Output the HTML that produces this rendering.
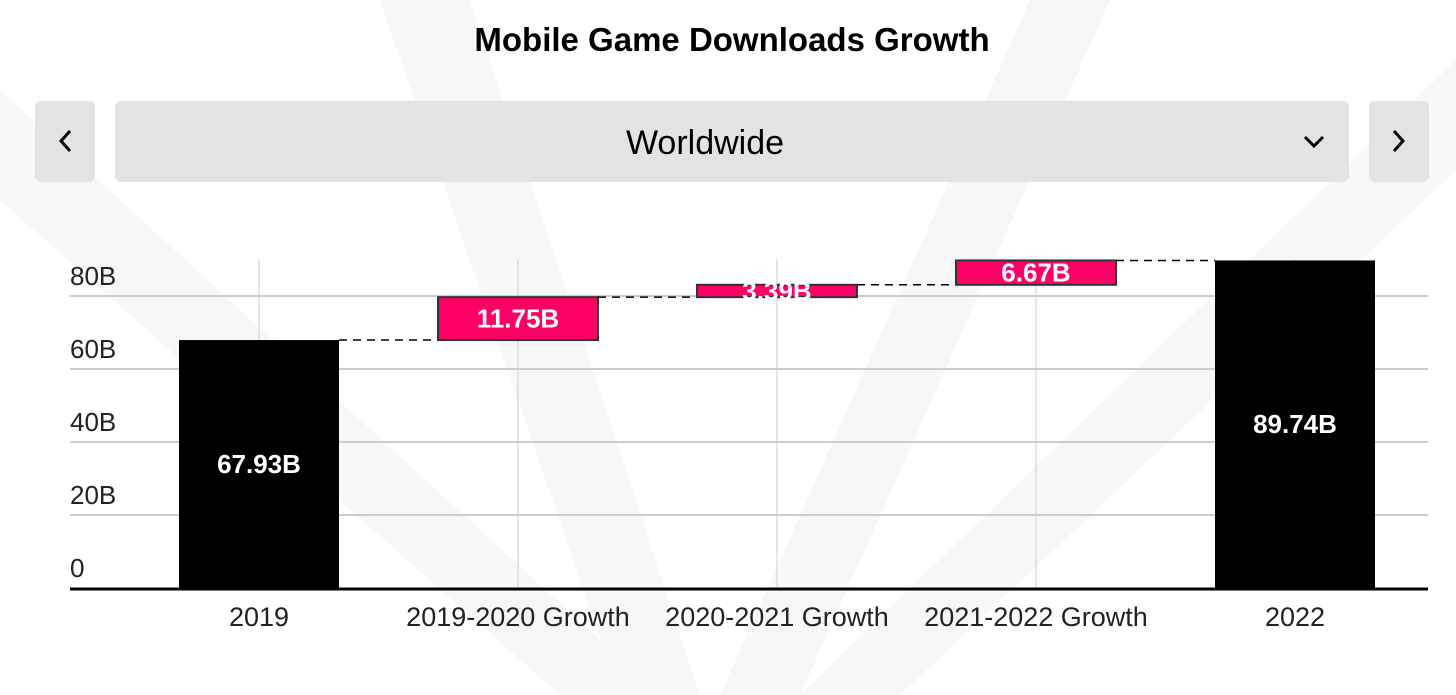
<!DOCTYPE html>
<html><head><meta charset="utf-8"><style>
body{margin:0;width:1456px;height:695px;overflow:hidden;background:#fff;font-family:"Liberation Sans",sans-serif;}
svg{position:absolute;left:0;top:0}
</style></head><body>
<svg width="1456" height="695">
<g fill="#f7f7f7">
<polygon points="0,90 0,200 560,695 660,695"/>
<polygon points="380,0 470,0 700,695 620,695"/>
<polygon points="1030,0 1110,0 800,695 720,695"/>
<polygon points="1456,60 1456,170 900,695 800,695"/>
</g>
<text x="732" y="51" text-anchor="middle" font-size="33" font-weight="bold" fill="#000">Mobile Game Downloads Growth</text>
<g><rect x="35" y="101" width="60" height="81" rx="6" fill="#e3e3e3"/><polyline points="70,131 61,141 70,151" fill="none" stroke="#000" stroke-width="3"/></g>
<g><rect x="115" y="101" width="1234" height="81" rx="6" fill="#e3e3e3"/>
<text x="705" y="154" text-anchor="middle" font-size="34" fill="#000">Worldwide</text>
<polyline points="1305,137 1314,146 1323,137" fill="none" stroke="#000" stroke-width="3"/></g>
<g><rect x="1369" y="101" width="60" height="81" rx="6" fill="#e3e3e3"/><polyline points="1394,131 1403,141 1394,151" fill="none" stroke="#000" stroke-width="3"/></g>
<g id="plot"></g>
</svg>
<script>
const categories=["2019","2019-2020 Growth","2020-2021 Growth","2021-2022 Growth","2022"];
const values=[67.93,11.75,3.39,6.67,89.74];
const isTotal=[true,false,false,false,true];
const labels=["67.93B","11.75B","3.39B","6.67B","89.74B"];
const yTicks=[0,20,40,60,80];
const yTickLabels=["0","20B","40B","60B","80B"];
const NS="http://www.w3.org/2000/svg";
const g=document.getElementById('plot');
const y=v=>588-v*3.65;
const x=i=>259+i*259;
const bw=160;
function mk(t,a,p){const e=document.createElementNS(NS,t);for(const k in a)e.setAttribute(k,a[k]);(p||g).appendChild(e);return e;}
for(let i=0;i<categories.length;i++){
 const l=mk('line',{x1:x(i),x2:x(i),y1:y(90),y2:588,stroke:'#ccc','stroke-width':1});
 
 
}
yTicks.forEach((t,i)=>{
 if(t>0){const l=mk('line',{x1:70,x2:1428,y1:y(t),y2:y(t),stroke:'#ccc','stroke-width':2});
 
 }
 const tx=mk('text',{x:70,y:y(t)-11,'font-size':26,fill:'#222'});tx.textContent=yTickLabels[i];
 
 
});
let cum=0;
for(let i=0;i<values.length;i++){
 let lo,hi;
 if(isTotal[i]){lo=0;hi=values[i];cum=values[i];}else{lo=cum;hi=cum+values[i];cum=hi;}
 const r=mk('rect',{x:x(i)-bw/2,y:y(hi),width:bw,height:y(lo)-y(hi),fill:isTotal[i]?'#000':'#ff0066',stroke:isTotal[i]?'none':'#333','stroke-width':2});
 
 
 const t=mk('text',{x:x(i),y:(y(lo)+y(hi))/2+9,'text-anchor':'middle','font-size':26,'font-weight':'bold',fill:'#fff'});
 t.textContent=labels[i];
 
 
 if(i<values.length-1){const c=mk('line',{x1:x(i)+bw/2,x2:x(i+1)-bw/2,y1:y(hi),y2:y(hi),stroke:'#000','stroke-width':1.5,'stroke-dasharray':'8,6'});
 
 }
 const cl=mk('text',{x:x(i),y:626,'text-anchor':'middle','font-size':27,fill:'#222'});cl.textContent=categories[i];
 
 
}
const ax=mk('line',{x1:70,x2:1428,y1:589,y2:589,stroke:'#000','stroke-width':3});


</script>
</body></html>
